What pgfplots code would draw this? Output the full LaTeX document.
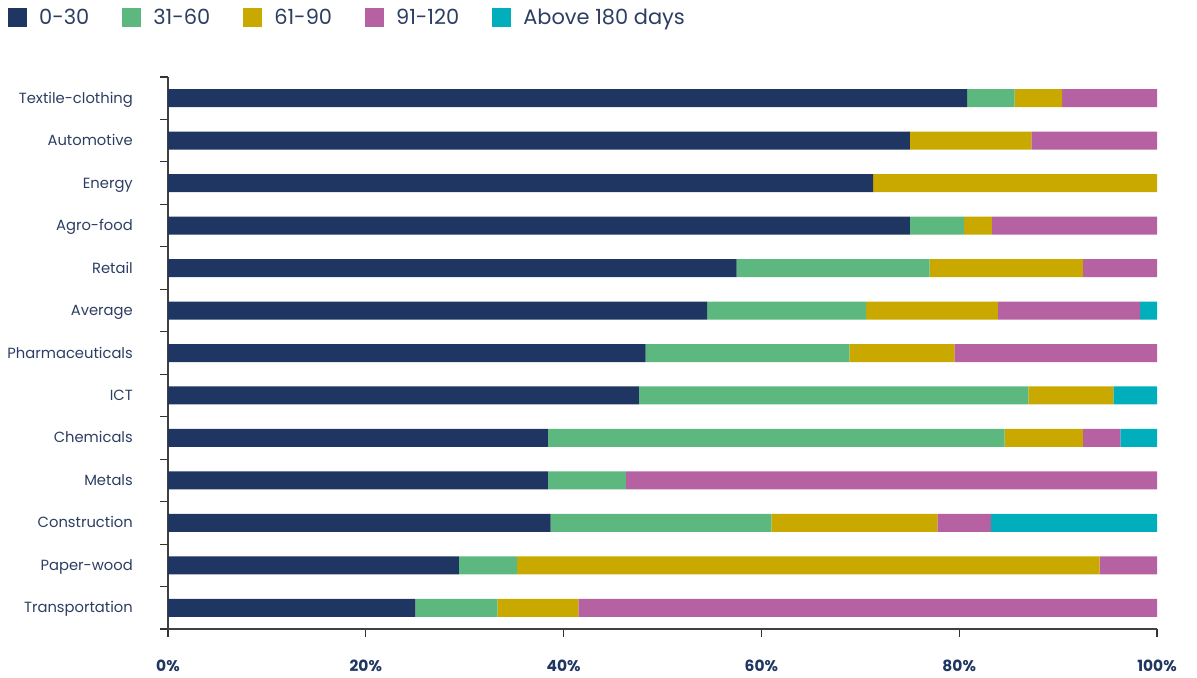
\documentclass[border=0pt]{standalone}
\usepackage{pgfplots}
\pgfplotsset{compat=1.18}
\usepackage{pgfplotstable}
\usepackage{fontspec}
\setmainfont{Poppins}
\definecolor{cA}{HTML}{1F3662}
\definecolor{cB}{HTML}{5DB880}
\definecolor{cC}{HTML}{C9A900}
\definecolor{cD}{HTML}{B662A2}
\definecolor{cE}{HTML}{00AFBB}
\definecolor{txt}{HTML}{2C3E63}
\pgfplotstableread[col sep=comma]{
cat,a,b,c,d,e
Textile-clothing,80.8,4.8,4.8,9.6,0
Automotive,75.0,0,12.3,12.7,0
Energy,71.3,0,28.7,0,0
Agro-food,75.0,5.5,2.8,16.7,0
Retail,57.5,19.5,15.5,7.5,0
Average,54.5,16.1,13.3,14.4,1.7
Pharmaceuticals,48.3,20.6,10.6,20.5,0
ICT,47.6,39.4,8.6,0,4.4
Chemicals,38.4,46.2,7.9,3.8,3.7
Metals,38.4,7.9,0,53.7,0
Construction,38.7,22.3,16.8,5.4,16.8
Paper-wood,29.4,5.9,58.9,5.8,0
Transportation,25.0,8.3,8.2,58.5,0
}\datatable
\begin{document}
\begin{tikzpicture}
\useasboundingbox (-168bp,-49bp) rectangle (1029bp,629bp);
\begin{axis}[
  at={(0,0)}, anchor=south west,
  scale only axis, width=989bp, height=552bp,
  xbar stacked, bar width=18bp,
  xmin=0, xmax=100,
  ymin=-0.5, ymax=12.5, y dir=reverse,
  axis lines*=left,
  axis line style={black!75, line width=1.1bp},
  tick align=outside,
  major tick length=8bp,
  tick style={black!80, line width=1.1bp},
  ytick={-0.5,0.5,...,12.5},
  yticklabels={},
  extra y ticks={0,1,2,3,4,5,6,7,8,9,10,11,12},
  extra y tick labels={Textile-clothing,Automotive,Energy,Agro-food,Retail,Average,Pharmaceuticals,ICT,Chemicals,Metals,Construction,Paper-wood,Transportation},
  extra y tick style={major tick length=0bp,
    yticklabel style={font=\fontsize{14.8}{17}\selectfont, text=txt, inner sep=0pt, anchor=base east, xshift=-35bp, yshift=-5bp}},
  xtick={0,20,40,60,80,100},
  xticklabels={0\%,20\%,40\%,60\%,80\%,100\%},
  xticklabel style={font=\fontsize{15.5}{18}\selectfont\bfseries, text=cA, inner sep=0pt, anchor=north, yshift=-23bp},
  legend columns=5,
  legend style={at={(-0.1618,1.125)}, anchor=north west, draw=none, fill=none, inner sep=0pt,
    font=\fontsize{21}{24}\selectfont, text=txt,
    nodes={inner sep=0pt, anchor=west},
    /tikz/every odd column/.append style={column sep=12bp},
    /tikz/every even column/.append style={column sep=33bp}},
  legend cell align=left,
  legend image code/.code={\fill[#1] (0bp,-9.5bp) rectangle (19bp,9.5bp);},
]
\addplot[fill=cA, draw=none] table[x=a, y expr=\coordindex] {\datatable};
\addplot[fill=cB, draw=none] table[x=b, y expr=\coordindex] {\datatable};
\addplot[fill=cC, draw=none] table[x=c, y expr=\coordindex] {\datatable};
\addplot[fill=cD, draw=none] table[x=d, y expr=\coordindex] {\datatable};
\addplot[fill=cE, draw=none] table[x=e, y expr=\coordindex] {\datatable};
\legend{0-30,31-60,61-90,91-120,Above 180 days}
\end{axis}
\end{tikzpicture}
\end{document}
